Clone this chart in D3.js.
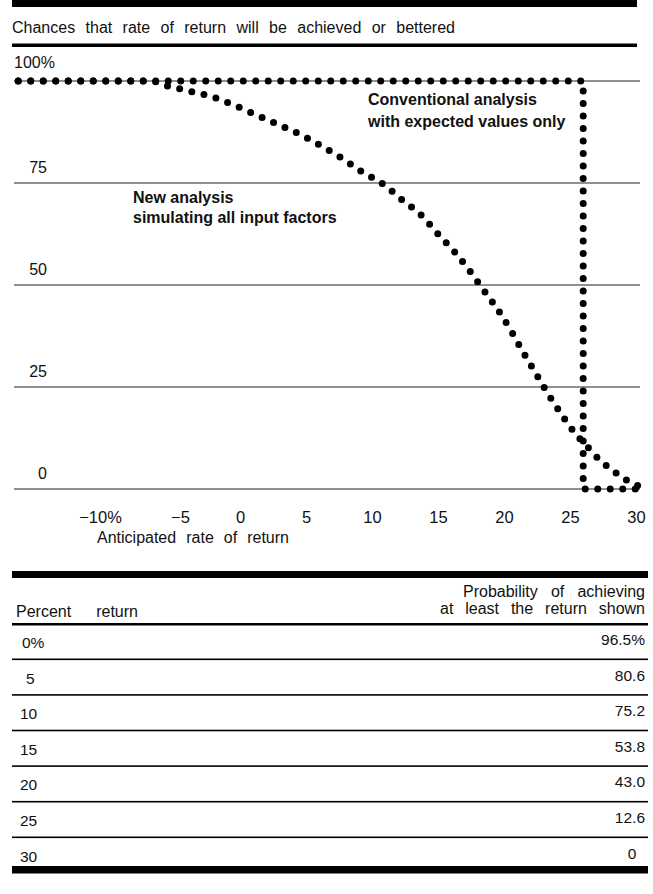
<!DOCTYPE html>
<html><head><meta charset="utf-8">
<script src="https://cdn.jsdelivr.net/npm/d3@7/dist/d3.min.js"></script>
<style>
body{margin:0;background:#fff}
text{font-family:"Liberation Sans",Arial,Helvetica,sans-serif;fill:#111}
</style>
</head><body>
<svg id="chart" width="653" height="894"></svg>
<script>
// ---------- data ----------
const chartTitle = "Chances that rate of return will be achieved or bettered";
const yTicks = [0, 25, 50, 75, 100];
const yTickLabels = ["0", "25", "50", "75", "100%"];
const xTicks = [-10, -5, 0, 5, 10, 15, 20, 25, 30];
const xTickLabels = ["\u221210%", "\u22125", "0", "5", "10", "15", "20", "25", "30"];
const xAxisTitle = "Anticipated rate of return";

// New analysis (simulating all input factors): return %, chance %
const newReturns = [-16.8, -6.8, -5.5, -3.8, -2.1, -0.4, 1.3, 3.0, 4.8, 6.3, 7.8, 9.3, 10.9, 12.3, 13.7, 15.0, 16.2, 17.3, 18.4, 19.5, 20.5, 21.4, 22.4, 23.3, 24.4, 25.5, 26.2, 26.8, 27.5, 28.2, 28.9, 29.7, 30.7];
const newChances = [100, 100, 98.8, 97.5, 96.1, 94.0, 91.6, 89.2, 86.5, 83.8, 80.9, 77.6, 74.6, 70.8, 67.2, 62.5, 58.3, 53.9, 49.0, 44.1, 39.0, 33.8, 28.4, 23.5, 18.1, 13.2, 10.8, 8.6, 6.4, 4.7, 2.9, 1.5, 0];

// Conventional analysis (expected values only)
const convReturns = [-16.8, 26, 26, 30.7];
const convChances = [100, 100, 0, 0];

const labelConventional = ["Conventional analysis", "with expected values only"];
const labelNew = ["New analysis", "simulating all input factors"];

const tableHeaderLeft = "Percent return";
const tableHeaderRight = ["Probability of achieving", "at least the return shown"];
const tableReturns = ["0%", "5", "10", "15", "20", "25", "30"];
const tableProbabilities = ["96.5%", "80.6", "75.2", "53.8", "43.0", "12.6", "0"];

// ---------- layout ----------
const svg = d3.select("#chart");
const x = d3.scaleLinear().domain([0, 30]).range([240, 636]);
const y = d3.scaleLinear().domain([0, 100]).range([489, 81]);
const gridX0 = 14, gridX1 = 640;

function fitWords(sel, w) {
  const n = sel.text().split(" ").length - 1;
  const len = sel.node().getComputedTextLength();
  if (n > 0) sel.style("word-spacing", ((w - len) / n) + "px");
}

// top bar, title, rule
svg.append("rect").attr("x", 12).attr("y", 0).attr("width", 625).attr("height", 7).attr("fill", "#000");
const t = svg.append("text").attr("x", 12).attr("y", 33).attr("font-size", 16).text(chartTitle);
fitWords(t, 443);
svg.append("rect").attr("x", 12).attr("y", 43.5).attr("width", 625).attr("height", 3.5).attr("fill", "#000");

// gridlines
svg.append("g").selectAll("line").data(yTicks).join("line")
  .attr("x1", gridX0).attr("x2", gridX1)
  .attr("y1", d => y(d)).attr("y2", d => y(d))
  .attr("stroke", "#222").attr("stroke-width", 1.1);

// y labels
svg.append("g").selectAll("text").data(yTicks).join("text")
  .attr("x", (d, i) => d === 100 ? 14 : 47)
  .attr("text-anchor", d => d === 100 ? "start" : "end")
  .attr("y", d => y(d) - (d === 100 ? 13 : 10))
  .attr("font-size", 16)
  .text((d, i) => yTickLabels[i]);

// x axis (labels only)
const xAxis = d3.axisBottom(x).tickValues(xTicks)
  .tickFormat((d, i) => xTickLabels[i]).tickSize(0).tickPadding(22.5);
const gx = svg.append("g").attr("transform", `translate(0,${y(0)})`).call(xAxis);
gx.select(".domain").remove();
gx.selectAll("text").attr("font-size", 16.5).attr("font-family", "Liberation Sans, Arial, sans-serif").attr("fill", "#111")
  .attr("dx", d => d === -10 ? -8 : (d === -5 ? 6 : 0));

const at = svg.append("text").attr("x", 97).attr("y", 543).attr("font-size", 16).text(xAxisTitle);
fitWords(at, 192);

// dotted series
const newData = newReturns.map((r, i) => [r, newChances[i]]);
const convData = convReturns.map((r, i) => [r, convChances[i]]);

svg.append("path").datum(convData)
  .attr("d", d3.line().x(d => x(d[0])).y(d => y(d[1])).curve(d3.curveLinear))
  .attr("fill", "none").attr("stroke", "#000").attr("stroke-width", 7)
  .attr("stroke-linecap", "round").attr("stroke-dasharray", "0 12.5");

svg.append("path").datum(newData)
  .attr("d", d3.line().x(d => x(d[0])).y(d => y(d[1])).curve(d3.curveMonotoneX))
  .attr("fill", "none").attr("stroke", "#000").attr("stroke-width", 7)
  .attr("stroke-linecap", "round").attr("stroke-dasharray", "0 12.5");

// annotations
svg.append("g").selectAll("text").data(labelConventional).join("text")
  .attr("x", 368).attr("y", (d, i) => 105 + i * 22)
  .attr("font-size", 16).attr("font-weight", "bold").text(d => d);
svg.append("g").selectAll("text").data(labelNew).join("text")
  .attr("x", 133).attr("y", (d, i) => 203 + i * 20)
  .attr("font-size", 16).attr("font-weight", "bold").text(d => d);

// ---------- table ----------
svg.append("rect").attr("x", 12).attr("y", 571).attr("width", 636).attr("height", 7).attr("fill", "#000");
const hr = svg.append("g").selectAll("text").data(tableHeaderRight).join("text")
  .attr("x", 645).attr("y", (d, i) => 597 + i * 17).attr("text-anchor", "end")
  .attr("font-size", 16).text(d => d);
fitWords(d3.select(hr.nodes()[0]), 182);
fitWords(d3.select(hr.nodes()[1]), 205);
const hl = svg.append("text").attr("x", 16).attr("y", 617).attr("font-size", 16).text(tableHeaderLeft);
fitWords(hl, 122);
svg.append("rect").attr("x", 12).attr("y", 623).attr("width", 636).attr("height", 2.5).attr("fill", "#000");

const rowY = d3.scaleLinear().domain([0, 1]).range([648, 683.6]);
svg.append("g").selectAll("rect").data(tableReturns.slice(0, -1)).join("rect")
  .attr("x", 12).attr("width", 636).attr("height", 1.6)
  .attr("y", (d, i) => rowY(i) + 10.5).attr("fill", "#000");

svg.append("g").selectAll("text").data(tableReturns).join("text")
  .attr("x", d => d.length === 1 ? 26 : (d.includes("%") ? 22 : 20))
  .attr("y", (d, i) => rowY(i)).attr("font-size", 15.5).text(d => d);
svg.append("g").selectAll("text").data(tableProbabilities).join("text")
  .attr("x", d => d === "0" ? 632 : 645)
  .attr("text-anchor", d => d === "0" ? "middle" : "end")
  .attr("y", (d, i) => rowY(i) - 3).attr("font-size", 15.5).text(d => d);

svg.append("rect").attr("x", 12).attr("y", 866).attr("width", 636).attr("height", 7.5).attr("fill", "#000");
</script>
</body></html>
